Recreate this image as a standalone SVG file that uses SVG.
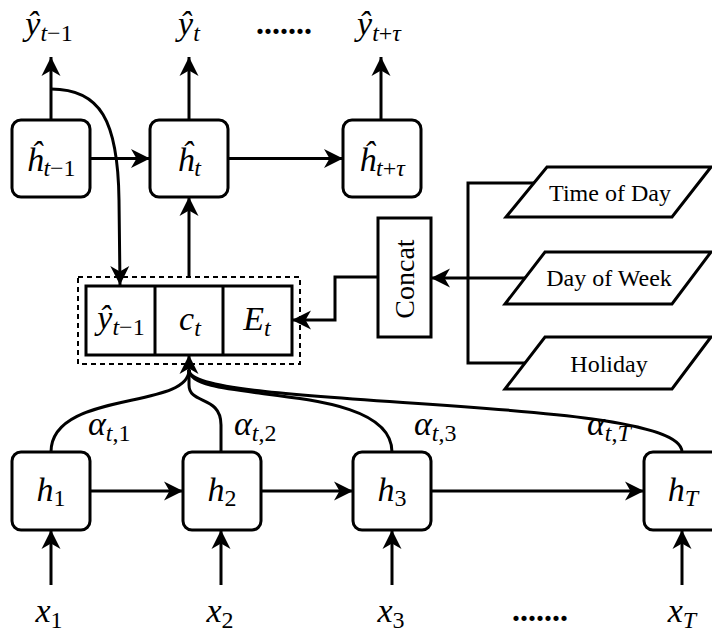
<svg xmlns="http://www.w3.org/2000/svg" width="712" height="635" viewBox="0 0 712 635">
<defs>
<style>
.box{fill:#fff;stroke:#000;stroke-width:3}
.ln{fill:none;stroke:#000;stroke-width:3}
.arr{marker-end:url(#ah)}
.m{font-family:"Liberation Serif","DejaVu Serif",serif;font-style:italic;font-size:34px;fill:#000}
.s{font-size:24px}
.u{font-style:normal}
.t{font-family:"Liberation Serif","DejaVu Serif",serif;font-size:24px;fill:#000}
.dots{font-family:"Liberation Serif",serif;font-weight:bold;font-size:32px;fill:#000}
</style>
<marker id="ah" markerUnits="userSpaceOnUse" markerWidth="22" markerHeight="22" viewBox="-20 -11 22 22" refX="0" refY="0" orient="auto">
<path d="M0,0 L-19,-9.5 L-13.5,0 L-19,9.5 Z" fill="#000"/>
</marker>
</defs>
<rect width="712" height="635" fill="#fff"/>

<g id="connectors">
<path class="ln arr" d="M51 120 L51 57"/>
<path class="ln arr" d="M189 120 L189 57"/>
<path class="ln arr" d="M381 120 L381 57"/>
<path class="ln arr" d="M90 158.5 L150 158.5"/>
<path class="ln arr" d="M228 158.5 L343 158.5"/>
<path class="ln arr" d="M51 89 C100 89 118 120 119 200 L120 285"/>
<path class="ln arr" d="M189 277 L189 197"/>
<path class="ln arr" d="M378 277 L335 277 L335 320 L292 320"/>
<path class="ln" d="M534 183 L468 183 L468 363 L525 363"/>
<path class="ln arr" d="M525 278 L431 278"/>
<path class="ln" d="M51 452 C51 390 189 410 189 370"/>
<path class="ln" d="M221 452 L221 425 C221 395 189 405 189 385 L189 370"/>
<path class="ln" d="M392 452 C392 380 189 405 189 370"/>
<path class="ln" d="M682 452 C682 395 189 410 189 370"/>
<path class="ln arr" d="M189 374 L189 355"/>
<path class="ln arr" d="M90 491 L183 491"/>
<path class="ln arr" d="M261 491 L353 491"/>
<path class="ln arr" d="M431 491 L644 491"/>
<path class="ln arr" d="M51 585 L51 530"/>
<path class="ln arr" d="M221 585 L221 530"/>
<path class="ln arr" d="M392 585 L392 530"/>
<path class="ln arr" d="M682 585 L682 530"/>
</g>

<g id="out_ym1"><text class="m" x="49" y="35" text-anchor="middle">ŷ<tspan class="s" dy="6">t<tspan class="u">−1</tspan></tspan></text></g>
<g id="out_yt"><text class="m" x="189" y="35" text-anchor="middle">ŷ<tspan class="s" dy="6">t</tspan></text></g>
<g id="dots_top"><text class="dots" x="256" y="34">.......</text></g>
<g id="out_ytau"><text class="m" x="379" y="35" text-anchor="middle">ŷ<tspan class="s" dy="6">t<tspan class="u">+</tspan>τ</tspan></text></g>

<g id="dec_hm1"><rect class="box" x="12" y="120" width="78" height="77" rx="9"/><text class="m" x="51" y="171" text-anchor="middle">ĥ<tspan class="s" dy="5">t<tspan class="u">−1</tspan></tspan></text></g>
<g id="dec_ht"><rect class="box" x="150" y="120" width="78" height="77" rx="9"/><text class="m" x="189" y="171" text-anchor="middle">ĥ<tspan class="s" dy="5">t</tspan></text></g>
<g id="dec_htau"><rect class="box" x="343" y="120" width="78" height="77" rx="9"/><text class="m" x="382" y="171" text-anchor="middle">ĥ<tspan class="s" dy="5">t<tspan class="u">+</tspan>τ</tspan></text></g>

<g id="context">
<rect x="78" y="277" width="222" height="87" fill="none" stroke="#000" stroke-width="2" stroke-dasharray="5 4"/>
<rect class="box" x="86" y="286" width="206" height="69"/>
<line x1="155" y1="286" x2="155" y2="355" stroke="#000" stroke-width="3"/>
<line x1="223" y1="286" x2="223" y2="355" stroke="#000" stroke-width="3"/>
<text class="m" x="121" y="329" text-anchor="middle">ŷ<tspan class="s" dy="6">t<tspan class="u">−1</tspan></tspan></text>
<text class="m" x="190" y="330" text-anchor="middle">c<tspan class="s" dy="6">t</tspan></text>
<text class="m" x="257" y="330" text-anchor="middle">E<tspan class="s" dy="6">t</tspan></text>
</g>

<g id="concat"><rect class="box" x="378" y="218" width="53" height="119"/><text class="t" style="font-size:28px" transform="translate(414,279) rotate(-90)" text-anchor="middle">Concat</text></g>

<g id="time_of_day"><polygon class="box" points="547,167 711,167 672,217 506,217"/><text class="t" x="610" y="201" text-anchor="middle">Time of Day</text></g>
<g id="day_of_week"><polygon class="box" points="545,252 711,252 672,304 505,304"/><text class="t" x="609" y="286" text-anchor="middle">Day of Week</text></g>
<g id="holiday"><polygon class="box" points="545,337 711,337 672,389 505,389"/><text class="t" x="609" y="372" text-anchor="middle">Holiday</text></g>

<g id="alpha1"><text class="m" x="88" y="435">α<tspan class="s" dy="6">t<tspan class="u">,1</tspan></tspan></text></g>
<g id="alpha2"><text class="m" x="234" y="435">α<tspan class="s" dy="6">t<tspan class="u">,2</tspan></tspan></text></g>
<g id="alpha3"><text class="m" x="414" y="435">α<tspan class="s" dy="6">t<tspan class="u">,3</tspan></tspan></text></g>
<g id="alphaT"><text class="m" x="587" y="435">α<tspan class="s" dy="6">t<tspan class="u">,</tspan>T</tspan></text></g>

<g id="enc_h1"><rect class="box" x="12" y="452" width="78" height="78" rx="9"/><text class="m" x="51" y="501" text-anchor="middle">h<tspan class="s u" dy="5">1</tspan></text></g>
<g id="enc_h2"><rect class="box" x="183" y="452" width="78" height="78" rx="9"/><text class="m" x="222" y="501" text-anchor="middle">h<tspan class="s u" dy="5">2</tspan></text></g>
<g id="enc_h3"><rect class="box" x="353" y="452" width="78" height="78" rx="9"/><text class="m" x="392" y="501" text-anchor="middle">h<tspan class="s u" dy="5">3</tspan></text></g>
<g id="enc_hT"><rect class="box" x="644" y="452" width="78" height="78" rx="9"/><text class="m" x="683" y="501" text-anchor="middle">h<tspan class="s" dy="5">T</tspan></text></g>

<g id="in_x1"><text class="m" x="49" y="622" text-anchor="middle">x<tspan class="s u" dy="6">1</tspan></text></g>
<g id="in_x2"><text class="m" x="220" y="622" text-anchor="middle">x<tspan class="s u" dy="6">2</tspan></text></g>
<g id="in_x3"><text class="m" x="391" y="622" text-anchor="middle">x<tspan class="s u" dy="6">3</tspan></text></g>
<g id="dots_bottom"><text class="dots" x="512" y="621">.......</text></g>
<g id="in_xT"><text class="m" x="682" y="622" text-anchor="middle">x<tspan class="s" dy="6">T</tspan></text></g>
</svg>
